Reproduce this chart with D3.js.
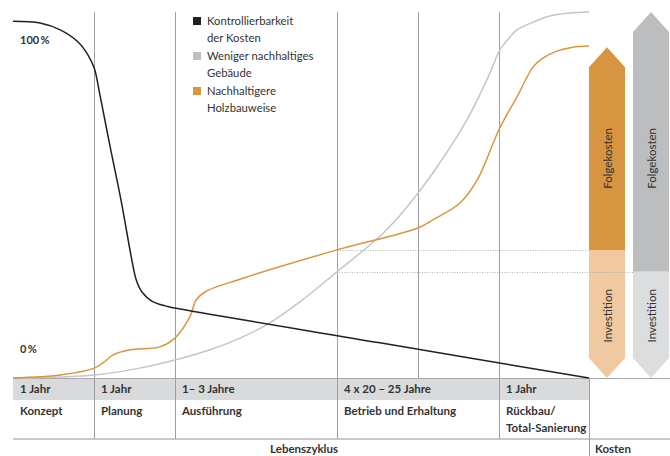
<!DOCTYPE html>
<html>
<head>
<meta charset="utf-8">
<script src="https://cdn.jsdelivr.net/npm/d3@7"></script>
<style>
  body { margin: 0; background: #fff; }
  text { font-family: Lato, "Open Sans", sans-serif; fill: #333; }
</style>
</head>
<body>
<div id="chart"></div>
<script>
// Lifecycle position (0-100) and share (0-100 %).
var controlX = [0, 4.7, 8.2, 11.3, 13.0, 14.1, 15.1, 16.8, 18.75, 20.7, 21.4, 22.4, 24.1, 26.4, 28.1, 63.7, 100];
var controlY = [97.5, 97.0, 95.1, 91.8, 88.3, 84.7, 77.3, 63.7, 48.6, 31.7, 26.8, 23.5, 21.0, 19.7, 19.1, 9.6, 0];

var greyX = [0, 8.2, 14.1, 22.0, 28.1, 34.2, 39.4, 44.3, 49.8, 56.25, 63.4, 67.2, 70.3, 72.9, 78.8, 82.8, 84.5, 86.3, 87.5, 89.8, 93.2, 96.7, 100];
var greyY = [0, 0.3, 0.8, 2.7, 4.9, 7.7, 10.9, 14.8, 20.8, 29.0, 38.3, 44.5, 50.5, 56.0, 70.5, 83.3, 89.6, 93.2, 95.1, 96.9, 98.9, 99.7, 100];

var woodX = [0, 8.2, 14.1, 15.6, 17.4, 20.3, 25.5, 28.1, 30.7, 31.8, 33.3, 39.4, 56.25, 70.3, 72.9, 77.6, 80.6, 84.5, 87.5, 90.3, 92.0, 94.4, 97.2, 100];
var woodY = [0, 0.8, 2.7, 4.1, 6.3, 7.7, 8.5, 10.9, 16.7, 21.3, 23.5, 27.0, 35.0, 41.0, 43.2, 47.8, 54.1, 68.3, 76.8, 85.0, 87.4, 89.3, 90.4, 90.7];

// Phases of the lifecycle
var phaseEdges = [0, 14.06, 28.13, 56.25, 84.38, 100];
var gridLines = [14.06, 28.13, 56.25, 70.31, 84.38];
var phaseYears = ["1 Jahr", "1 Jahr", "1\u2013 3 Jahre", "4 x 20 \u2013 25 Jahre", "1 Jahr"];
var phaseNames = [["Konzept"], ["Planung"], ["Ausführung"], ["Betrieb und Erhaltung"], ["Rückbau/", "Total-Sanierung"]];

// Cost arrows: total and investment share
var costNames = ["Nachhaltigere Holzbauweise", "Weniger nachhaltiges Gebäude"];
var costTotal = [90.4, 100];
var costInvest = [35.0, 29.0];

var legendLabels = [["Kontrollierbarkeit", "der Kosten"], ["Weniger nachhaltiges", "Gebäude"], ["Nachhaltigere", "Holzbauweise"]];
var legendColors = ["#231f20", "#bdbfc1", "#d9953f"];

var width = 670, height = 456;
var margin = { top: 12, left: 13, right: 81, bottom: 78 };
var chartRight = width - margin.right;
var baseY = height - margin.bottom;

var svg = d3.select("#chart").append("svg")
    .attr("width", width)
    .attr("height", height);

var x = d3.scaleLinear().domain([0, 100]).range([margin.left, chartRight]);
var y = d3.scaleLinear().domain([0, 100]).range([baseY, margin.top]);

// Table band
svg.append("rect")
    .attr("x", x(0)).attr("y", baseY)
    .attr("width", x(100) - x(0)).attr("height", 22)
    .attr("fill", "#d9dadb");

svg.append("line")
    .attr("x1", x(0)).attr("x2", width)
    .attr("y1", baseY + 0.5).attr("y2", baseY + 0.5)
    .attr("stroke", "#a7a9ab").attr("stroke-width", 1);

svg.append("line")
    .attr("x1", x(0)).attr("x2", width)
    .attr("y1", baseY + 61).attr("y2", baseY + 61)
    .attr("stroke", "#c8c9ca").attr("stroke-width", 2);

// Grid lines in chart area
svg.selectAll(".grid").data(gridLines).enter().append("line")
    .attr("x1", d => Math.round(x(d)) + 0.5).attr("x2", d => Math.round(x(d)) + 0.5)
    .attr("y1", y(100)).attr("y2", baseY)
    .attr("stroke", "#9d9fa1").attr("stroke-width", 1);

// Column separators in table
svg.selectAll(".sep").data(phaseEdges.slice(1, -1)).enter().append("line")
    .attr("x1", d => Math.round(x(d)) + 0.5).attr("x2", d => Math.round(x(d)) + 0.5)
    .attr("y1", baseY).attr("y2", baseY + 61)
    .attr("stroke", "#9d9fa1").attr("stroke-width", 1);

svg.append("line")
    .attr("x1", Math.round(x(100)) + 0.5).attr("x2", Math.round(x(100)) + 0.5)
    .attr("y1", baseY).attr("y2", height)
    .attr("stroke", "#9d9fa1").attr("stroke-width", 1);

// Table labels
phaseYears.forEach(function(t, i) {
    svg.append("text")
        .attr("x", x(phaseEdges[i]) + 7).attr("y", baseY + 15)
        .attr("font-size", 11.5).attr("font-weight", "bold")
        .text(t);
    phaseNames[i].forEach(function(n, j) {
        svg.append("text")
            .attr("x", x(phaseEdges[i]) + 7).attr("y", baseY + 37 + j * 17)
            .attr("font-size", 11.5).attr("font-weight", "bold")
            .text(n);
    });
});

svg.append("text")
    .attr("x", 338).attr("y", height - 3)
    .attr("text-anchor", "end")
    .attr("font-size", 11.5).attr("font-weight", "bold")
    .text("Lebenszyklus");

svg.append("text")
    .attr("x", x(100) + 6).attr("y", height - 3)
    .attr("font-size", 11.5).attr("font-weight", "bold")
    .text("Kosten");

// Percentage labels
svg.append("text").attr("x", 20).attr("y", 44)
    .attr("font-size", 11).attr("font-weight", "bold").text("100\u2009%");
svg.append("text").attr("x", 20).attr("y", 353)
    .attr("font-size", 11).attr("font-weight", "bold").text("0\u2009%");

// Cost arrows
var arrowX = [x(100), x(100) + 44];
var arrowW = 36, tip = 20;
var darkFill = ["#d89541", "#bbbdbf"];
var lightFill = ["#f0c9a0", "#dcddde"];

costNames.forEach(function(name, i) {
    var x0 = arrowX[i], x1 = x0 + arrowW, xm = x0 + arrowW / 2;
    var yt = y(costTotal[i]), yi = y(costInvest[i]), yb = y(0);
    // upper part (Folgekosten)
    svg.append("path")
        .attr("d", `M${x0},${yi} L${x0},${yt + tip} L${xm},${yt} L${x1},${yt + tip} L${x1},${yi} Z`)
        .attr("fill", darkFill[i]);
    // lower part (Investition)
    svg.append("path")
        .attr("d", `M${x0},${yi} L${x1},${yi} L${x1},${yb - tip} L${xm},${yb} L${x0},${yb - tip} Z`)
        .attr("fill", lightFill[i]);
    svg.append("text")
        .attr("transform", `translate(${xm},${y(60)}) rotate(-90)`)
        .attr("text-anchor", "middle").attr("dominant-baseline", "central")
        .attr("font-size", 11.5)
        .text("Folgekosten");
    svg.append("text")
        .attr("transform", `translate(${xm},${y(17)}) rotate(-90)`)
        .attr("text-anchor", "middle").attr("dominant-baseline", "central")
        .attr("font-size", 11.5)
        .text("Investition");
});

// Dotted guide lines from curves to arrows
svg.append("line")
    .attr("x1", x(55.5)).attr("x2", arrowX[0])
    .attr("y1", Math.round(y(costInvest[0])) + 0.5).attr("y2", Math.round(y(costInvest[0])) + 0.5)
    .attr("stroke", "#9d9fa1").attr("stroke-width", 0.8).attr("stroke-dasharray", "1,1.5");
svg.append("line")
    .attr("x1", x(56.25)).attr("x2", arrowX[1])
    .attr("y1", Math.round(y(costInvest[1])) + 0.5).attr("y2", Math.round(y(costInvest[1])) + 0.5)
    .attr("stroke", "#9d9fa1").attr("stroke-width", 0.8).attr("stroke-dasharray", "1,1.5");

// Curves
var line = d3.line()
    .x(d => x(d[0]))
    .y(d => y(d[1]))
    .curve(d3.curveCatmullRom.alpha(0.5));

svg.append("path")
    .datum(d3.zip(greyX, greyY))
    .attr("d", line)
    .attr("fill", "none").attr("stroke", "#c3c5c7").attr("stroke-width", 1.5);

svg.append("path")
    .datum(d3.zip(woodX, woodY))
    .attr("d", line)
    .attr("fill", "none").attr("stroke", "#d9953f").attr("stroke-width", 1.5);

svg.append("path")
    .datum(d3.zip(controlX, controlY))
    .attr("d", line)
    .attr("fill", "none").attr("stroke", "#231f20").attr("stroke-width", 1.5);

// Legend
legendLabels.forEach(function(lines, i) {
    var ly = 17 + i * 35;
    svg.append("rect")
        .attr("x", 193).attr("y", ly)
        .attr("width", 8).attr("height", 8)
        .attr("fill", legendColors[i]);
    lines.forEach(function(t, j) {
        svg.append("text")
            .attr("x", 207).attr("y", ly + 8 + j * 17)
            .attr("font-size", 11.3)
            .text(t);
    });
});
</script>
</body>
</html>
